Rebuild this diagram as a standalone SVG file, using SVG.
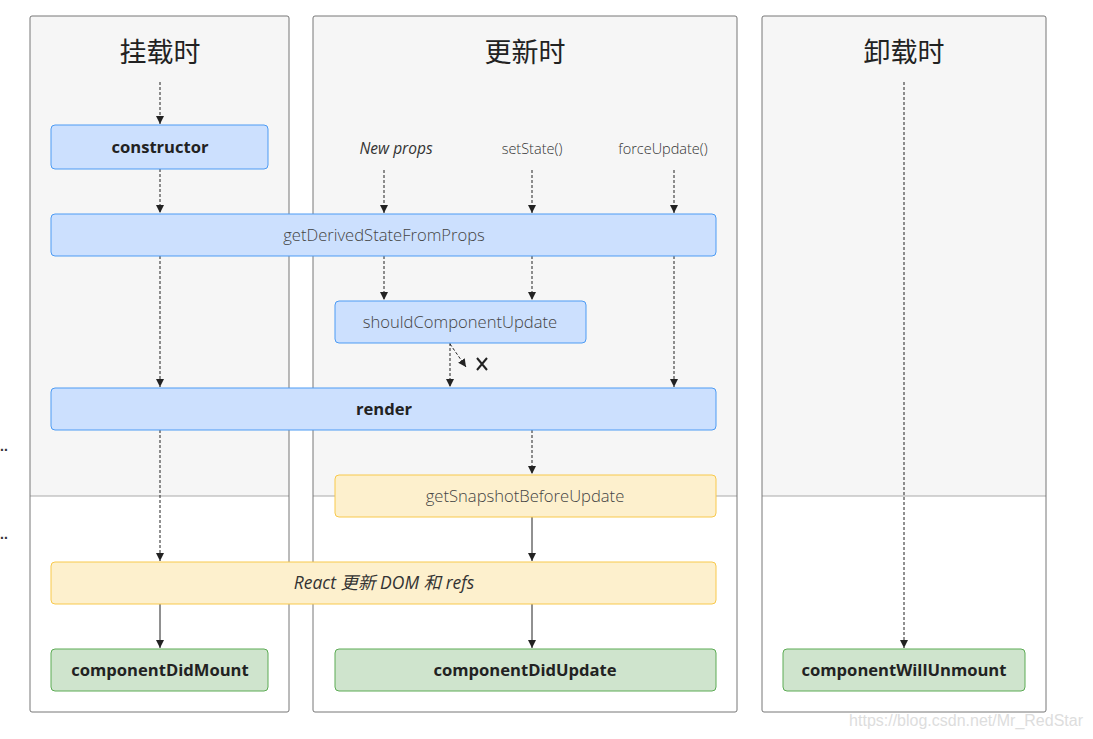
<svg xmlns="http://www.w3.org/2000/svg" width="1093" height="739" viewBox="0 0 1093 739">
<style>
.col{fill:#f6f6f6;stroke:none}
.colb{fill:none;stroke:#777;stroke-width:1}
.div{stroke:#aaa;stroke-width:1}
.title{font-family:"Noto Sans CJK SC",sans-serif;font-size:27px;fill:#222;text-anchor:middle}
.blue{fill:#cce0fe;stroke:#4c9bf4;stroke-width:1}
.yellow{fill:#fdf0cd;stroke:#f8c94c;stroke-width:1}
.green{fill:#cfe4cd;stroke:#5cab54;stroke-width:1}
.b{font-family:"Open Sans",sans-serif;font-weight:bold;font-size:16.6px;fill:#222;text-anchor:middle}
.l{font-family:"Open Sans",sans-serif;font-weight:300;font-size:16.6px;fill:#444;text-anchor:middle}
.s{font-family:"Open Sans",sans-serif;font-weight:300;font-size:14.5px;fill:#333;text-anchor:middle}
.i{font-style:italic}
.d{stroke:#222;stroke-width:1;stroke-dasharray:3 2;fill:none;marker-end:url(#ah)}
.sl{stroke:#222;stroke-width:1;fill:none;marker-end:url(#ah)}
</style>
<defs>
<marker id="ah" viewBox="0 0 8 10" refX="8" refY="5" markerWidth="8" markerHeight="10" markerUnits="userSpaceOnUse" orient="auto">
<path d="M0,1 L8,5 L0,9 Z" fill="#222"/>
</marker>
</defs>
<rect width="1093" height="739" fill="#fff"/>
<g id="columns">
<path class="col" d="M30,16 H289 V496 H30 Z"/>
<path class="col" d="M313,16 H737 V496 H313 Z"/>
<path class="col" d="M762,16 H1046 V496 H762 Z"/>
<line class="div" x1="30" y1="496" x2="289" y2="496"/>
<line class="div" x1="313" y1="496" x2="737" y2="496"/>
<line class="div" x1="762" y1="496" x2="1046" y2="496"/>
<rect class="colb" x="30" y="16" width="259" height="696" rx="2"/>
<rect class="colb" x="313" y="16" width="424" height="696" rx="2"/>
<rect class="colb" x="762" y="16" width="284" height="696" rx="2"/>
<text class="title" x="160" y="62">挂载时</text>
<text class="title" x="525" y="62">更新时</text>
<text class="title" x="904" y="62">卸载时</text>
</g>
<g id="labels">
<text class="s i" x="396" y="154" style="font-weight:400;font-size:15.5px">New props</text>
<text class="s" x="532" y="154">setState()</text>
<text class="s" x="663" y="154">forceUpdate()</text>
</g>
<g id="connectors">
<line class="d" x1="160" y1="82" x2="160" y2="124"/>
<line class="d" x1="160" y1="169" x2="160" y2="213"/>
<line class="d" x1="160" y1="256" x2="160" y2="387"/>
<line class="d" x1="160" y1="430" x2="160" y2="561"/>
<line class="sl" x1="160" y1="604" x2="160" y2="648"/>
<line class="d" x1="384" y1="170" x2="384" y2="213"/>
<line class="d" x1="532" y1="170" x2="532" y2="213"/>
<line class="d" x1="674" y1="170" x2="674" y2="213"/>
<line class="d" x1="384" y1="256" x2="384" y2="300"/>
<line class="d" x1="532" y1="256" x2="532" y2="300"/>
<line class="d" x1="674" y1="256" x2="674" y2="387"/>
<line class="d" x1="450" y1="343" x2="450" y2="387"/>
<line class="d" x1="450" y1="344" x2="466" y2="367"/>
<path d="M477,358 L487,370 M487,358 L477,370" stroke="#222" stroke-width="2" fill="none"/>
<line class="d" x1="532" y1="430" x2="532" y2="474"/>
<line class="sl" x1="532" y1="517" x2="532" y2="561"/>
<line class="sl" x1="532" y1="604" x2="532" y2="648"/>
<line class="d" x1="904" y1="82" x2="904" y2="648"/>
</g>
<g id="constructor"><rect class="blue" x="51" y="125" width="217" height="44" rx="4"/><text class="b" x="160" y="153">constructor</text></g>
<g id="getDerivedStateFromProps"><rect class="blue" x="51" y="214" width="665" height="42" rx="4"/><text class="l" x="384" y="241">getDerivedStateFromProps</text></g>
<g id="shouldComponentUpdate"><rect class="blue" x="335" y="301" width="251" height="42" rx="4"/><text class="l" x="460" y="328">shouldComponentUpdate</text></g>
<g id="render"><rect class="blue" x="51" y="388" width="665" height="42" rx="4"/><text class="b" x="384" y="415">render</text></g>
<g id="getSnapshotBeforeUpdate"><rect class="yellow" x="335" y="475" width="381" height="42" rx="4"/><text class="l" x="525" y="502">getSnapshotBeforeUpdate</text></g>
<g id="reactUpdateDom"><rect class="yellow" x="51" y="562" width="665" height="42" rx="4"/><text class="l i" x="384" y="589" style="font-weight:400;fill:#333;font-size:17.5px">React <tspan font-family="Noto Sans CJK SC">更新</tspan> DOM <tspan font-family="Noto Sans CJK SC">和</tspan> refs</text></g>
<g id="componentDidMount"><rect class="green" x="51" y="649" width="217" height="42" rx="4"/><text class="b" x="160" y="676">componentDidMount</text></g>
<g id="componentDidUpdate"><rect class="green" x="335" y="649" width="381" height="42" rx="4"/><text class="b" x="525" y="676">componentDidUpdate</text></g>
<g id="componentWillUnmount"><rect class="green" x="783" y="649" width="242" height="42" rx="4"/><text class="b" x="904" y="676">componentWillUnmount</text></g>
<g id="edge">
<text x="0" y="451" font-family="Liberation Sans,sans-serif" font-size="14" font-weight="bold" fill="#333">..</text>
<text x="0" y="539" font-family="Liberation Sans,sans-serif" font-size="14" font-weight="bold" fill="#333">..</text>
<text x="1083" y="726" font-family="Liberation Sans,sans-serif" font-size="16" fill="#ddd" text-anchor="end">https://blog.csdn.net/Mr_RedStar</text>
</g>
</svg>
